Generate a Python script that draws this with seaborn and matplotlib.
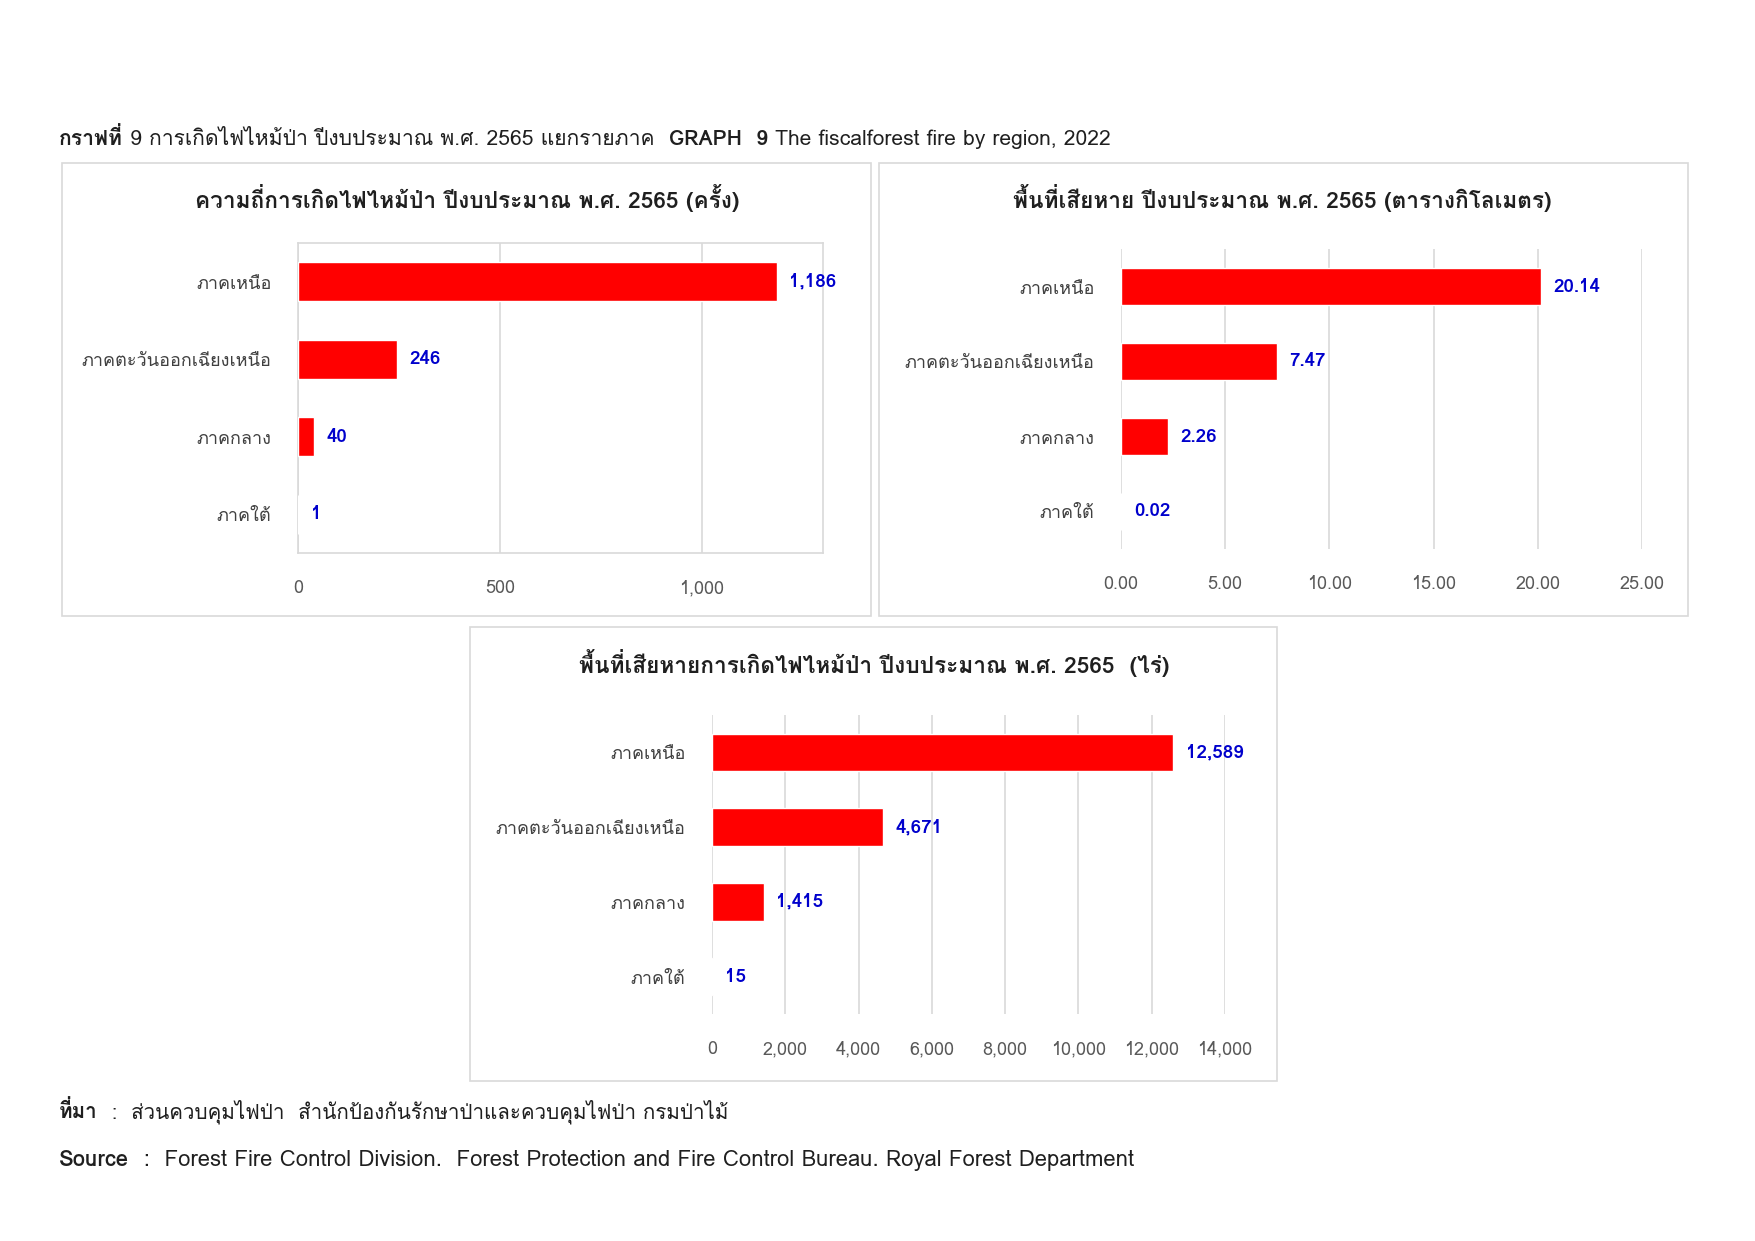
import matplotlib
matplotlib.use("Agg")
import matplotlib.pyplot as plt
import seaborn as sns
import pandas as pd
from matplotlib import font_manager
from matplotlib.ft2font import FT2Font
from matplotlib.patches import Rectangle
from matplotlib.ticker import FuncFormatter

# ----------------------------------------------------------------------
# Data
# ----------------------------------------------------------------------
regions = ["ภาคเหนือ", "ภาคตะวันออกเฉียงเหนือ", "ภาคกลาง", "ภาคใต้"]
fire_count = [1186, 246, 40, 1]
area_sqkm = [20.14, 7.47, 2.26, 0.02]
area_rai = [12589, 4671, 1415, 15]

count_ticks = [0, 500, 1000]
sqkm_ticks = [0, 5, 10, 15, 20, 25]
rai_ticks = [0, 2000, 4000, 6000, 8000, 10000, 12000, 14000]

title_count = "ความถี่การเกิดไฟไหม้ป่า ปีงบประมาณ พ.ศ. 2565 (ครั้ง)"
title_sqkm = "พื้นที่เสียหาย ปีงบประมาณ พ.ศ. 2565 (ตารางกิโลเมตร)"
title_rai = "พื้นที่เสียหายการเกิดไฟไหม้ป่า ปีงบประมาณ พ.ศ. 2565  (ไร่)"

header_runs = [("กราฟที่", "bold"), (" 9 การเกิดไฟไหม้ป่า ปีงบประมาณ พ.ศ. 2565 แยกรายภาค  ", "normal"),
               ("GRAPH  9", "bold"), (" The fiscalforest fire by region, 2022", "normal")]
source_th = [("ที่มา", "bold"), ("  :  ส่วนควบคุมไฟป่า  สำนักป้องกันรักษาป่าและควบคุมไฟป่า กรมป่าไม้", "normal")]
source_en = [("Source", "bold"), ("  :  Forest Fire Control Division.  Forest Protection and Fire Control Bureau. Royal Forest Department", "normal")]

BAR_RED = "#FF0000"
LABEL_BLUE = "#0000CC"
GRID_GREY = "#D9D9D9"
TICK_GREY = "#595959"
TEXT_DARK = "#1F1F1F"


# ----------------------------------------------------------------------
# Thai font + mark placement
# matplotlib does no OpenType shaping, so use a font with the old
# private-use glyph variants (Loma) and pick the variants by hand.
# ----------------------------------------------------------------------
def thai_font():
    best, fallback = None, None
    for f in font_manager.fontManager.ttflist:
        try:
            cm = FT2Font(f.fname).get_charmap()
        except Exception:
            continue
        if 0x0E01 not in cm:
            continue
        fallback = fallback or f.name
        if 0xF70A in cm and f.name == "Loma":
            best = f.name
    return best, (best or fallback)


HAS_PUA, THAI = thai_font()

TALL = set("ปฝฟฬ")
UPPER_LEFT = {0x0E31: 0xF710, 0x0E34: 0xF701, 0x0E35: 0xF702, 0x0E36: 0xF703,
              0x0E37: 0xF704, 0x0E4D: 0xF711, 0x0E47: 0xF712}


def th(s):
    if not HAS_PUA:
        return s
    out, base, upper = [], "", False
    for i, ch in enumerate(s):
        cp = ord(ch)
        if cp in UPPER_LEFT:
            out.append(chr(UPPER_LEFT[cp]) if base in TALL else ch)
            upper = True
        elif 0x0E48 <= cp <= 0x0E4C:
            k = cp - 0x0E48
            nxt = s[i + 1] if i + 1 < len(s) else ""
            if upper or nxt == "\u0e33":
                out.append(chr(0xF713 + k) if base in TALL else ch)
            else:
                out.append(chr(0xF705 + k) if base in TALL else chr(0xF70A + k))
        elif 0x0E38 <= cp <= 0x0E3A:
            out.append(chr(0xF718 + cp - 0x0E38) if base in "ญฐ" else ch)
        else:
            out.append(ch)
            base, upper = ch, False
    return "".join(out)


sns.set_theme(style="white")
plt.rcParams["font.family"] = ([THAI] if THAI else []) + ["DejaVu Sans"]

fig = plt.figure(figsize=(17.55, 12.41), dpi=100)
W, H = 1755, 1241


def px_box(x0, y0, x1, y1):
    """pixel box (top-left origin) -> figure fraction rect"""
    return [x0 / W, 1 - y1 / H, (x1 - x0) / W, (y1 - y0) / H]


def panel_frame(x0, y0, x1, y1):
    l, b, w, h = px_box(x0, y0, x1, y1)
    fig.patches.append(Rectangle((l, b), w, h, transform=fig.transFigure,
                                 facecolor="none", edgecolor=GRID_GREY, lw=1.2, zorder=-1))


def bar_panel(rect, values, ticks, xmax, fmt_tick, fmt_val, boxed):
    ax = fig.add_axes(rect)
    df = pd.DataFrame({"region": [th(r) for r in regions], "value": values})
    sns.barplot(data=df, y="region", x="value", orient="h", color=BAR_RED,
                saturation=1, width=0.5, ax=ax, zorder=3)
    ax.set_xlim(0, xmax)
    ax.set_xticks(ticks)
    ax.xaxis.set_major_formatter(FuncFormatter(lambda v, _: fmt_tick(v)))
    ax.set_xlabel("")
    ax.set_ylabel("")
    ax.grid(axis="x", color=GRID_GREY, lw=1.2, zorder=0)
    ax.grid(axis="y", visible=False)
    ax.tick_params(axis="x", length=0, pad=19, labelsize=13, labelcolor=TICK_GREY)
    ax.tick_params(axis="y", length=0, pad=19, labelsize=13, labelcolor="#404040")
    for s in ax.spines.values():
        s.set_visible(boxed)
        s.set_color(GRID_GREY)
        s.set_linewidth(1.2)
    ax.bar_label(ax.containers[0], labels=[fmt_val(v) for v in values], padding=9,
                 color=LABEL_BLUE, fontsize=13.5, fontweight="bold")
    return ax


def draw_runs(x, y, runs, size, color=TEXT_DARK):
    renderer = fig.canvas.get_renderer()
    for text, weight in runs:
        t = fig.text(x, y, th(text), fontsize=size, fontweight=weight, color=color,
                     ha="left", va="baseline")
        bb = t.get_window_extent(renderer=renderer)
        x += bb.width / W


# ----------------------------------------------------------------------
# Panels
# ----------------------------------------------------------------------
panel_frame(62, 163, 871, 616)
panel_frame(879, 163, 1688, 616)
panel_frame(470, 627, 1277, 1081)

bar_panel(px_box(298, 243, 823, 553), fire_count, count_ticks, 1300,
          lambda v: f"{v:,.0f}", lambda v: f"{v:,.0f}", True)
bar_panel(px_box(1121, 249, 1642, 549), area_sqkm, sqkm_ticks, 25,
          lambda v: f"{v:.2f}", lambda v: f"{v:.2f}", False)
bar_panel(px_box(712, 715, 1225, 1014), area_rai, rai_ticks, 14000,
          lambda v: f"{v:,.0f}", lambda v: f"{v:,.0f}", False)

title_kw = dict(fontsize=16.3, fontweight="bold", color=TEXT_DARK, ha="center", va="center")
fig.text(467 / W, 1 - 198 / H, th(title_count), **title_kw)
fig.text(1282 / W, 1 - 198 / H, th(title_sqkm), **title_kw)
fig.text(874 / W, 1 - 663 / H, th(title_rai), **title_kw)

draw_runs(59 / W, 1 - 145 / H, header_runs, 15.2)
draw_runs(59 / W, 1 - 1118 / H, source_th, 14.8)
draw_runs(59 / W, 1 - 1166 / H, source_en, 15.9)

fig.savefig("out.png", dpi=100, facecolor="white")
